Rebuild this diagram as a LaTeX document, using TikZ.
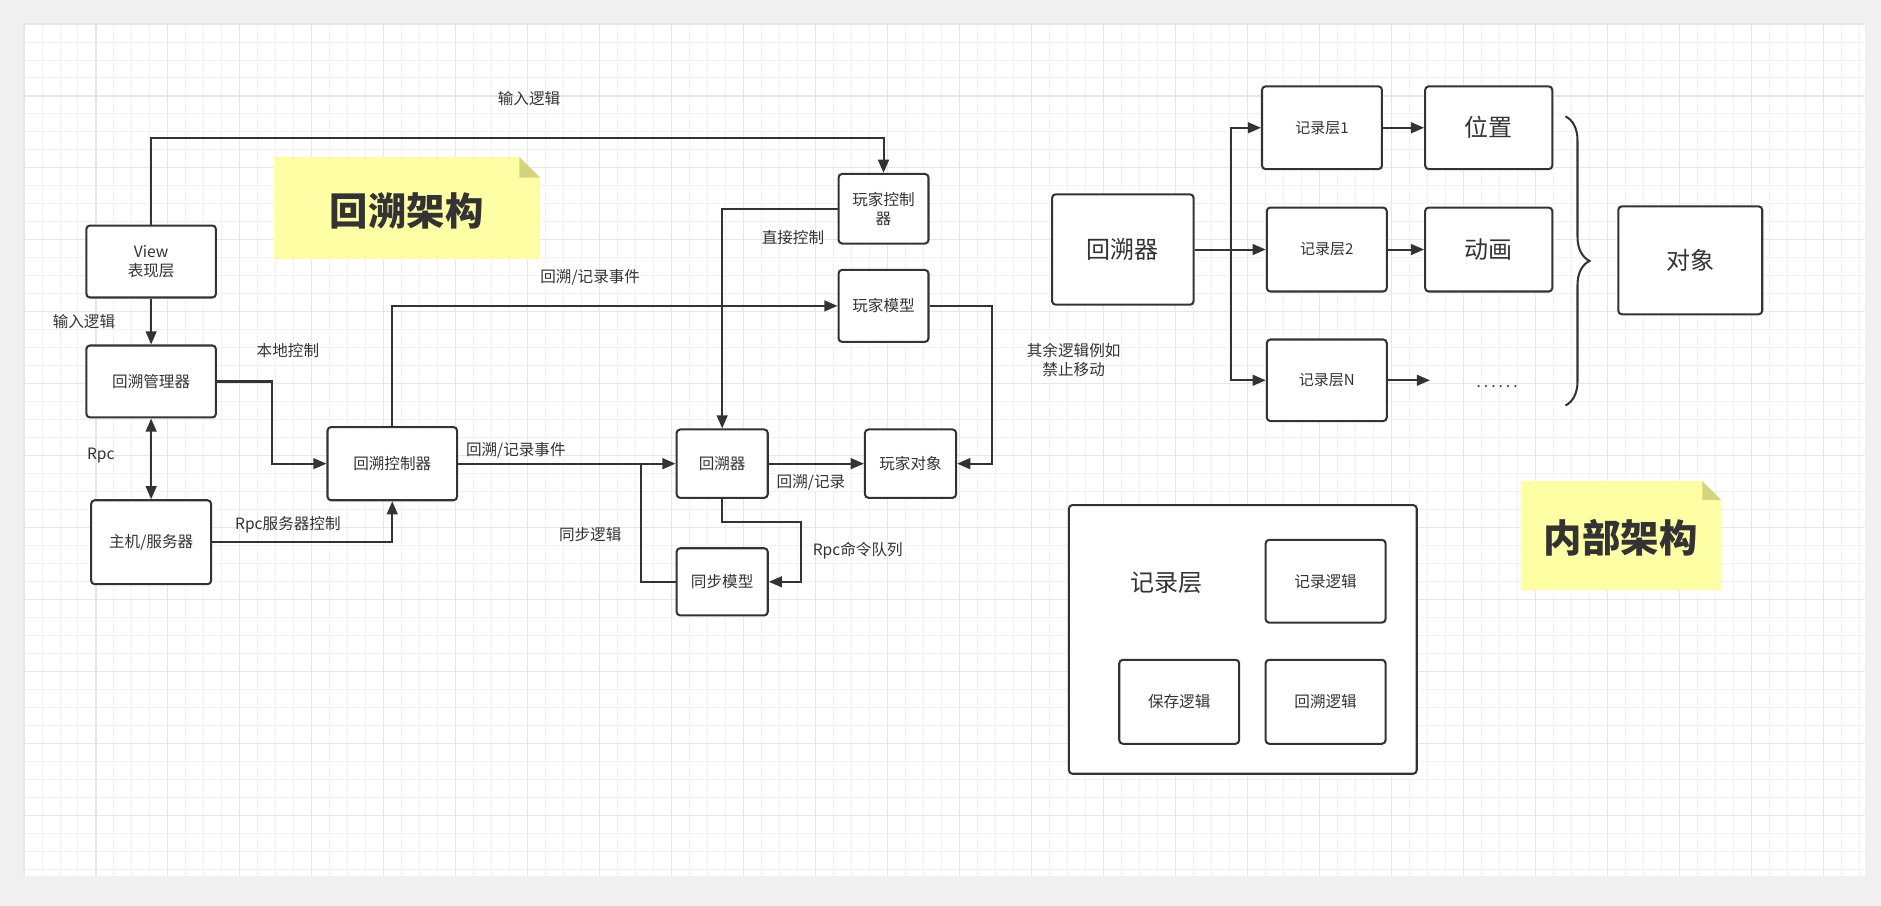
\documentclass[tikz,border=0pt]{standalone}
\usepackage{fontspec}
\setmainfont{Noto Sans CJK SC}
\usepackage{tikz}
\usetikzlibrary{arrows.meta}
\usetikzlibrary{decorations.pathreplacing}
\definecolor{ink}{HTML}{333333}
\definecolor{notefill}{HTML}{FFFFA6}
\definecolor{notefold}{HTML}{D4D47E}
\definecolor{gridlo}{HTML}{F1F1F1}
\definecolor{gridhi}{HTML}{E7E7E7}
\definecolor{pagegray}{HTML}{F0F0F0}
\tikzset{
  box/.style={draw=ink, line width=1.7pt, rounded corners=3pt, fill=white, text=ink, align=center, inner sep=0pt, font=\fontsize{13pt}{16pt}\selectfont},
  big/.style={font=\fontsize{20pt}{24pt}\selectfont},
  conn/.style={draw=ink, line width=1.7pt, -{Triangle[length=11pt,width=9pt]}},
  wire/.style={draw=ink, line width=1.7pt},
  lbl/.style={text=ink, align=center, inner sep=1pt, font=\fontsize{13pt}{16pt}\selectfont},
  notetitle/.style={text=ink, font=\fontsize{32pt}{36pt}\selectfont\bfseries}
}

\begin{document}
\begin{tikzpicture}[x=1pt,y=-1pt]
\useasboundingbox (0,0) rectangle (1568,755);
% draw page and grid
\fill[pagegray] (0,0) rectangle (1568,755);
\fill[white] (20,20) rectangle (1555,730);
\foreach \gx in {20,35,...,1555} \draw[gridlo, line width=0.8pt] (\gx,20) -- (\gx,730);
\foreach \gy in {20,35,...,730} \draw[gridlo, line width=0.8pt] (20,\gy) -- (1555,\gy);
\foreach \gx in {20,80,...,1555} \draw[gridhi, line width=0.9pt] (\gx,20) -- (\gx,730);
\foreach \gy in {20,80,...,730} \draw[gridhi, line width=0.9pt] (20,\gy) -- (1555,\gy);

% draw sticky notes
\fill[notefill] (228,131) -- (433,131) -- (450,148) -- (450,216) -- (228,216) -- cycle;
\fill[notefold] (433,131) -- (450,148) -- (433,148) -- cycle;
\node[notetitle] (title) at (339,176) {回溯架构};
\fill[notefill] (1268,401) -- (1419,401) -- (1435,417) -- (1435,492) -- (1268,492) -- cycle;
\fill[notefold] (1419,401) -- (1435,417) -- (1419,417) -- cycle;
\node[notetitle] (inner) at (1351,448) {内部架构};

% draw left boxes
\node[box, minimum width=108pt, minimum height=60pt] (view) at (126,218) {View\\表现层};
\node[box, minimum width=108pt, minimum height=60pt] (mgr) at (126,318) {回溯管理器};
\node[box, minimum width=100pt, minimum height=70pt] (host) at (126,452) {主机/服务器};
\node[box, minimum width=108pt, minimum height=61pt] (ctrl) at (327,386.5) {回溯控制器};
\node[box, minimum width=75pt, minimum height=58pt] (pctrl) at (736.5,174) {玩家控制\\器};
\node[box, minimum width=75pt, minimum height=60pt] (pmodel) at (736.5,255) {玩家模型};
\node[box, minimum width=76pt, minimum height=57pt] (rb) at (602,386.5) {回溯器};
\node[box, minimum width=76pt, minimum height=57pt] (pobj) at (759,386.5) {玩家对象};
\node[box, minimum width=76pt, minimum height=56pt] (sync) at (602,485) {同步模型};

% draw left connectors
\draw[conn] (view.north) -- ++(0,-72) -| (pctrl.north);
\draw[conn] (view) -- (mgr);
\draw[conn, {Triangle[length=11pt,width=9pt]}-{Triangle[length=11pt,width=9pt]}] (mgr) -- (host);
\draw[conn] (mgr.east) -- ++(46,0) |- (ctrl.west);
\draw[conn] (host.east) -| (ctrl.south);
\draw[conn] (ctrl.north) |- (pmodel.west);
\draw[conn] (pctrl.west) -| (rb.north);
\draw[conn] (ctrl.east) -- (rb.west);
\draw[conn] (rb.east) -- (pobj.west);
\draw[conn] (pmodel.east) -- ++(52,0) |- (pobj.east);
\draw[conn] (rb.south) -- ++(0,19) -- ++(66,0) |- (sync.east);
\draw[wire] (sync.west) -- ++(-29,0) -- ++(0,-98.5);

% connector names
\node[lbl] (lin1) at (441,82) {输入逻辑};
\node[lbl] (lin2) at (70,268) {输入逻辑};
\node[lbl] (lloc) at (240,292) {本地控制};
\node[lbl] (lrpc) at (84,380) {Rpc};
\node[lbl] (lrpcs) at (240,437) {Rpc服务器控制};
\node[lbl] (lev1) at (492,231) {回溯/记录事件};
\node[lbl] (ldir) at (661,198) {直接控制};
\node[lbl] (lev2) at (430,375) {回溯/记录事件};
\node[lbl, fill=white] (lrec) at (676,402) {回溯/记录};
\node[lbl] (lother) at (895,300) {其余逻辑例如\\禁止移动};
\node[lbl] (lq) at (715,459) {Rpc命令队列};
\node[lbl] (lsync) at (492,446) {同步逻辑};

% draw right boxes
\node[box, big, minimum width=118pt, minimum height=92pt] (rb2) at (936,208) {回溯器};
\node[box, font=\fontsize{12.5pt}{15pt}\selectfont, minimum width=100pt, minimum height=69pt] (rec1) at (1102,106.5) {记录层1};
\node[box, font=\fontsize{12.5pt}{15pt}\selectfont, minimum width=100pt, minimum height=70pt] (rec2) at (1106,208) {记录层2};
\node[box, font=\fontsize{12.5pt}{15pt}\selectfont, minimum width=100pt, minimum height=68pt] (recN) at (1106,317) {记录层N};
\node[box, big, minimum width=106pt, minimum height=69pt] (pos) at (1241,106.5) {位置};
\node[box, big, minimum width=106pt, minimum height=70pt] (anim) at (1241,208) {动画};
\node[box, big, minimum width=120pt, minimum height=90pt] (obj) at (1409,217) {对象};
\coordinate (dotsend) at (1192,317);
\node[lbl] (dots) at (1248,322) {.\kern2.5pt.\kern2.5pt.\kern2.5pt.\kern2.5pt.\kern2.5pt.};

% draw right connectors
\draw[conn] (rb2.east) -- ++(30,0) |- (rec1.west);
\draw[conn] (rb2.east) -- (rec2.west);
\draw[conn] (rb2.east) -- ++(30,0) |- (recN.west);
\draw[conn] (rec1) -- (pos);
\draw[conn] (rec2) -- (anim);
\draw[conn] (recN.east) -- (dotsend);
% draw brace
\draw[ink, line width=1.7pt, decorate, decoration={brace, amplitude=20pt}] (1305,97) -- (1305,338);

% draw record layer
\node[box, minimum width=290pt, minimum height=224pt] (layer) at (1036,533) {};
\node[lbl, big] (layername) at (972,486) {记录层};
\node[box, minimum width=100pt, minimum height=69pt] (reclogic) at (1105,484.5) {记录逻辑};
\node[box, minimum width=100pt, minimum height=70pt] (savelogic) at (983,585) {保存逻辑};
\node[box, minimum width=100pt, minimum height=70pt] (rblogic) at (1105,585) {回溯逻辑};
\end{tikzpicture}
\end{document}
